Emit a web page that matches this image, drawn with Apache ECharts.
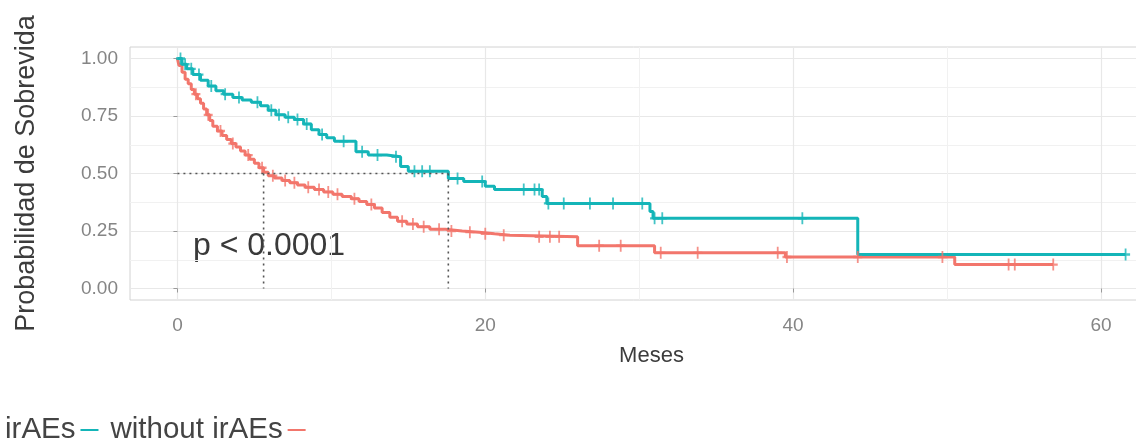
<!DOCTYPE html>
<html>
<head>
<meta charset="utf-8">
<script src="https://cdn.jsdelivr.net/npm/echarts@6/dist/echarts.min.js"></script>
<style>
  html, body { margin: 0; padding: 0; background: #fff; }
  #chart { width: 1136px; height: 442px; }
</style>
</head>
<body>
<div id="chart"></div>
<script>
// Kaplan-Meier steps (months, survival)
const tealTime = [0, 0.3, 0.6, 1.0, 1.5, 2.0, 2.5, 3.0, 3.6, 4.2, 4.8, 5.4, 5.9, 6.4, 7.0, 7.6, 8.2, 8.7, 9.2, 9.7, 10.2, 11.6, 12.4, 13.6, 14.5, 15.0, 17.6, 18.6, 20.0, 20.6, 23.7, 24.0, 30.7, 30.9, 44.2, 61.6];
const tealSurv = [1.0, 0.975, 0.955, 0.93, 0.905, 0.88, 0.86, 0.845, 0.83, 0.82, 0.81, 0.795, 0.775, 0.755, 0.745, 0.735, 0.715, 0.69, 0.67, 0.655, 0.64, 0.595, 0.58, 0.573, 0.53, 0.51, 0.478, 0.465, 0.445, 0.43, 0.40, 0.37, 0.335, 0.305, 0.148, 0.148];
const tealCensor = [0.2, 0.5, 0.9, 1.4, 2.2, 3.1, 4.0, 5.2, 6.1, 6.6, 7.2, 7.8, 8.4, 9.4, 10.8, 12.0, 13.0, 14.2, 15.4, 15.9, 16.4, 18.2, 19.8, 22.5, 23.2, 23.5, 24.1, 25.1, 26.8, 28.3, 30.2, 31.0, 31.5, 40.6, 61.6];

const redTime = [0, 0.1, 0.3, 0.5, 0.7, 0.9, 1.1, 1.3, 1.5, 1.7, 1.9, 2.1, 2.3, 2.6, 2.9, 3.2, 3.5, 3.8, 4.1, 4.4, 4.7, 5.0, 5.3, 5.6, 5.9, 6.3, 6.8, 7.3, 7.8, 8.3, 8.9, 9.5, 10.1, 10.7, 11.3, 11.8, 12.3, 12.8, 13.3, 13.8, 14.3, 14.9, 15.6, 16.4, 17.4, 18.5, 19.6, 20.6, 21.6, 26.0, 31.0, 39.5, 50.5, 56.9];
const redSurv = [1.0, 0.97, 0.94, 0.91, 0.89, 0.865, 0.845, 0.825, 0.805, 0.78, 0.755, 0.73, 0.705, 0.685, 0.665, 0.648, 0.63, 0.615, 0.598, 0.58, 0.562, 0.545, 0.525, 0.505, 0.49, 0.48, 0.47, 0.46, 0.45, 0.44, 0.43, 0.42, 0.41, 0.40, 0.39, 0.378, 0.365, 0.35, 0.33, 0.31, 0.292, 0.28, 0.268, 0.258, 0.25, 0.245, 0.238, 0.232, 0.225, 0.186, 0.155, 0.137, 0.104, 0.104];
const redCensor = [1.2, 2.0, 2.8, 3.6, 4.6, 5.5, 6.2, 7.0, 7.6, 8.5, 9.2, 9.8, 10.4, 11.5, 12.6, 14.6, 15.3, 16.0, 17.0, 17.8, 19.0, 20.0, 21.2, 23.5, 24.2, 24.8, 27.4, 28.8, 31.4, 33.8, 39.0, 39.6, 44.2, 49.7, 54.0, 54.4, 56.9];

const medianTime = [5.6, 17.6];
const medianLevel = 0.5;

const xTicks = [0, 20, 40, 60];
const xMinor = [10, 30, 50];
const yTicks = [0, 0.25, 0.5, 0.75, 1];
const yMinor = [0.125, 0.375, 0.625, 0.875];

const groups = ['irAEs', 'without irAEs'];
const TEAL = '#14B5B8';
const RED = '#F2766C';

const xMin = -3.08, xMax = 64.68;
const yMin = -0.05, yMax = 1.05;

const censorSymbol = 'path://M-2,-10H2V-2H10V2H2V10H-2V2H-10V-2H-2Z';

function pairs(t, s) { return t.map((v, i) => [v, s[i]]); }
function survAt(t, s, x) {
    let v = s[0];
    for (let i = 0; i < t.length; i++) if (t[i] <= x) v = s[i];
    return v;
}

const chart = echarts.init(document.getElementById('chart'), null, { renderer: 'canvas' });

function valueAxis(min, max, major, minor, extra) {
    return [
        Object.assign({
            type: 'value', min, max,
            axisLine: { show: false },
            axisTick: { show: true, length: 4, customValues: major, lineStyle: { color: '#9a9a9a' } },
            splitLine: { show: true, lineStyle: { color: '#e8e8e8', width: 1.2 } }
        }, extra),
        {
            type: 'value', min, max, position: extra.position,
            axisLine: { show: false },
            axisTick: { show: false, customValues: minor },
            axisLabel: { show: false, customValues: minor },
            splitLine: { show: true, lineStyle: { color: '#f1f1f1', width: 1 } }
        }
    ];
}

const xAxes = valueAxis(xMin, xMax, xTicks, xMinor, {
    position: 'bottom',
    name: 'Meses', nameLocation: 'middle', nameGap: 45,
    nameTextStyle: { fontSize: 22, color: '#3c3c3c' },
    axisLabel: { customValues: xTicks, color: '#858585', fontSize: 19, margin: 16 }
});
const yAxes = valueAxis(yMin, yMax, yTicks, yMinor, {
    position: 'left',
    name: 'Probabilidad de Sobrevida', nameLocation: 'middle', nameGap: 90,
    nameTextStyle: { fontSize: 27, color: '#3c3c3c' },
    axisLabel: { customValues: yTicks, color: '#858585', fontSize: 19, margin: 12,
        formatter: v => v.toFixed(2) }
});

const series = [
    {
        name: groups[1], type: 'line', step: 'end', data: pairs(redTime, redSurv),
        showSymbol: false, lineStyle: { width: 3, color: RED }, itemStyle: { color: RED }, z: 3
    },
    {
        name: groups[0], type: 'line', step: 'end', data: pairs(tealTime, tealSurv),
        showSymbol: false, lineStyle: { width: 3, color: TEAL }, itemStyle: { color: TEAL }, z: 4
    },
    {
        name: 'censor ' + groups[1], type: 'scatter', symbol: censorSymbol, symbolSize: [9, 12],
        data: redCensor.map(t => [t, survAt(redTime, redSurv, t)]),
        itemStyle: { color: RED }, z: 5
    },
    {
        name: 'censor ' + groups[0], type: 'scatter', symbol: censorSymbol, symbolSize: [9, 12],
        data: tealCensor.map(t => [t, survAt(tealTime, tealSurv, t)]),
        itemStyle: { color: TEAL }, z: 6
    },
    {
        name: 'median h', type: 'line', data: [[0, medianLevel], [Math.max(...medianTime), medianLevel]],
        showSymbol: false, lineStyle: { width: 1.6, color: '#555', type: [2, 4] }, z: 7
    }
].concat(medianTime.map(m => ({
    name: 'median v', type: 'line', data: [[m, medianLevel], [m, 0]],
    showSymbol: false, lineStyle: { width: 1.6, color: '#555', type: [2, 4] }, z: 7
})));

chart.setOption({
    animation: false,
    textStyle: { fontFamily: 'Liberation Sans, Arial, sans-serif' },
    grid: {
        left: 130, top: 47, width: 1043, height: 253,
        outerBoundsMode: 'none', containLabel: false,
        show: true, borderColor: '#d2d2d2', borderWidth: 1, backgroundColor: '#fff'
    },
    xAxis: xAxes,
    yAxis: yAxes,
    legend: {
        data: groups, left: 0, top: 410, align: 'right', icon: 'rect',
        itemWidth: 18, itemHeight: 2, itemGap: 12,
        textStyle: { fontSize: 29.5, color: '#444' }
    },
    graphic: [{
        type: 'text', left: 193, top: 230, silent: true,
        style: { text: 'p < 0.0001', font: '32px "Liberation Sans", Arial, sans-serif', fill: '#3a3a3a' }
    }],
    series: series.map(s => Object.assign({ silent: true, animation: false }, s))
});
</script>
</body>
</html>
